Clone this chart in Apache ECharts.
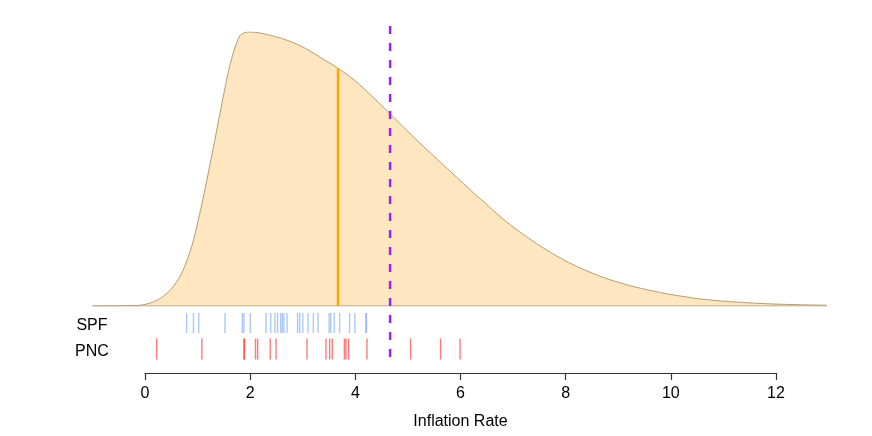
<!DOCTYPE html>
<html>
<head>
<meta charset="utf-8">
<script src="https://cdn.jsdelivr.net/npm/echarts@6/dist/echarts.min.js"></script>
<style>
html,body{margin:0;padding:0;background:#fff;}
#chart{width:872px;height:436px;}
</style>
</head>
<body>
<div id="chart"></div>
<script>
// Density curve of forecast inflation (x = inflation rate, y = density height, arbitrary units)
const densityX = [-1.0,-0.5,-0.1,0.1,0.3,0.5,0.7,0.9,1.1,1.3,1.5,1.6,1.7,1.8,1.9,2.0,2.2,2.4,2.6,2.8,3.0,3.2,3.4,3.6,3.8,4.0,4.25,4.5,4.75,5.0,5.25,5.5,5.75,6.0,6.25,6.5,6.75,7.0,7.25,7.5,7.75,8.0,8.25,8.5,8.75,9.0,9.25,9.5,9.75,10.0,10.25,10.5,10.75,11.0,11.5,12.0,12.5,12.97];
const densityY = [0,0.2,0.7,3,8,17,33,62,107,159,213,238,257,270,273.5,274,272.8,270.5,267.5,263.8,259,253,246.5,240,233,225,213,200.5,187.5,174.5,161.7,149.5,137.3,125.1,113,101.5,89.5,79,69.5,60.5,52.5,45,38.6,33,27.9,23.7,20,16.8,14,11.5,9.4,7.4,6,4.8,3.1,1.9,1.2,0.7];

// Individual forecasts (rug marks)
const spfValues = [0.79,0.92,1.02,1.52,1.85,1.88,2.00,2.30,2.39,2.47,2.52,2.58,2.61,2.64,2.70,2.90,2.94,3.00,3.10,3.20,3.29,3.50,3.53,3.60,3.70,3.89,3.99,4.20,4.21];
const pncValues = [0.22,1.08,1.88,1.89,2.10,2.14,2.38,2.49,3.08,3.44,3.51,3.56,3.79,3.82,3.87,4.22,5.05,5.62,5.99];

const rugLabels = ['SPF','PNC'];
const meanValue = 3.67;     // orange solid line
const meanHeight = 238;     // density height at the mean
const actualValue = 4.66;   // purple dashed line
const axisMin = 0, axisMax = 12, axisStep = 2;
const plotMin = -1.01, plotMax = 12.97;

const FONT = 'Liberation Sans, Arial, Helvetica, sans-serif';

const chart = echarts.init(document.getElementById('chart'), null, {renderer:'canvas'});
const densityData = densityX.map((x,i)=>[x, densityY[i]]);

const option = {
  animation: false,
  backgroundColor: '#fff',
  textStyle: {fontFamily: FONT},
  grid: [
    {left: 92, right: 45, top: 32, height: 274},   // density
    {left: 92, right: 45, top: 310, height: 52},   // rug
    {left: 145, right: 96, top: 300, height: 73},  // visible axis
    {left: 92, right: 45, top: 26, height: 335}    // purple overlay
  ],
  xAxis: [
    {gridIndex:0, type:'value', min:plotMin, max:plotMax, show:false},
    {gridIndex:1, type:'value', min:plotMin, max:plotMax, show:false},
    {gridIndex:2, type:'value', min:axisMin, max:axisMax, interval:axisStep,
      axisLine:{show:true, lineStyle:{color:'#333', width:1.2}},
      axisTick:{show:true, length:7, lineStyle:{color:'#333', width:1.2}},
      axisLabel:{show:true, fontSize:16, color:'#000', margin:13, fontFamily:FONT},
      splitLine:{show:false},
      name:'Inflation Rate', nameLocation:'middle', nameGap:41,
      nameTextStyle:{fontSize:16, color:'#000', fontFamily:FONT}
    },
    {gridIndex:3, type:'value', min:plotMin, max:plotMax, show:false}
  ],
  yAxis: [
    {gridIndex:0, type:'value', min:0, max:274, show:false},
    {gridIndex:1, type:'category', data:rugLabels, inverse:true,
      axisLine:{show:false}, axisTick:{show:false}, splitLine:{show:false},
      axisLabel:{show:true, fontSize:16, color:'#000', align:'center', margin:0,
        verticalAlign:'top', lineHeight:6, fontFamily:FONT}
    },
    {gridIndex:2, type:'value', show:false},
    {gridIndex:3, type:'value', min:0, max:1, show:false}
  ],
  series: [
    {
      type:'line', xAxisIndex:0, yAxisIndex:0, data:densityData,
      smooth:0.25, symbol:'none',
      lineStyle:{color:'#B39A73', width:1},
      areaStyle:{color:'#FDE6C0', opacity:1},
      z:2
    },
    {
      type:'line', xAxisIndex:0, yAxisIndex:0,
      data:[[densityX[0],0],[densityX[densityX.length-1],0]],
      symbol:'none', lineStyle:{color:'#B39A73', width:1.2}, z:3
    },
    {
      type:'line', xAxisIndex:0, yAxisIndex:0,
      data:[[meanValue,0],[meanValue,meanHeight]],
      symbol:'none', lineStyle:{color:'#FFA500', width:2.5}, z:4
    },
    {
      type:'scatter', xAxisIndex:1, yAxisIndex:1,
      data: spfValues.map(v=>[v,'SPF']),
      symbol:'rect', symbolSize:[1.4,20],
      itemStyle:{color:'rgba(100,149,237,0.65)'}, z:3
    },
    {
      type:'scatter', xAxisIndex:1, yAxisIndex:1,
      data: pncValues.map(v=>[v,'PNC']),
      symbol:'rect', symbolSize:[1.4,21],
      itemStyle:{color:'rgba(255,0,0,0.65)'}, z:3
    },
    {
      type:'line', xAxisIndex:3, yAxisIndex:3,
      data:[[actualValue,1],[actualValue,0]],
      symbol:'none', lineStyle:{color:'#A020F0', width:2.5, type:[8,9]}, z:10
    }
  ]
};
chart.setOption(option);
</script>
</body>
</html>
